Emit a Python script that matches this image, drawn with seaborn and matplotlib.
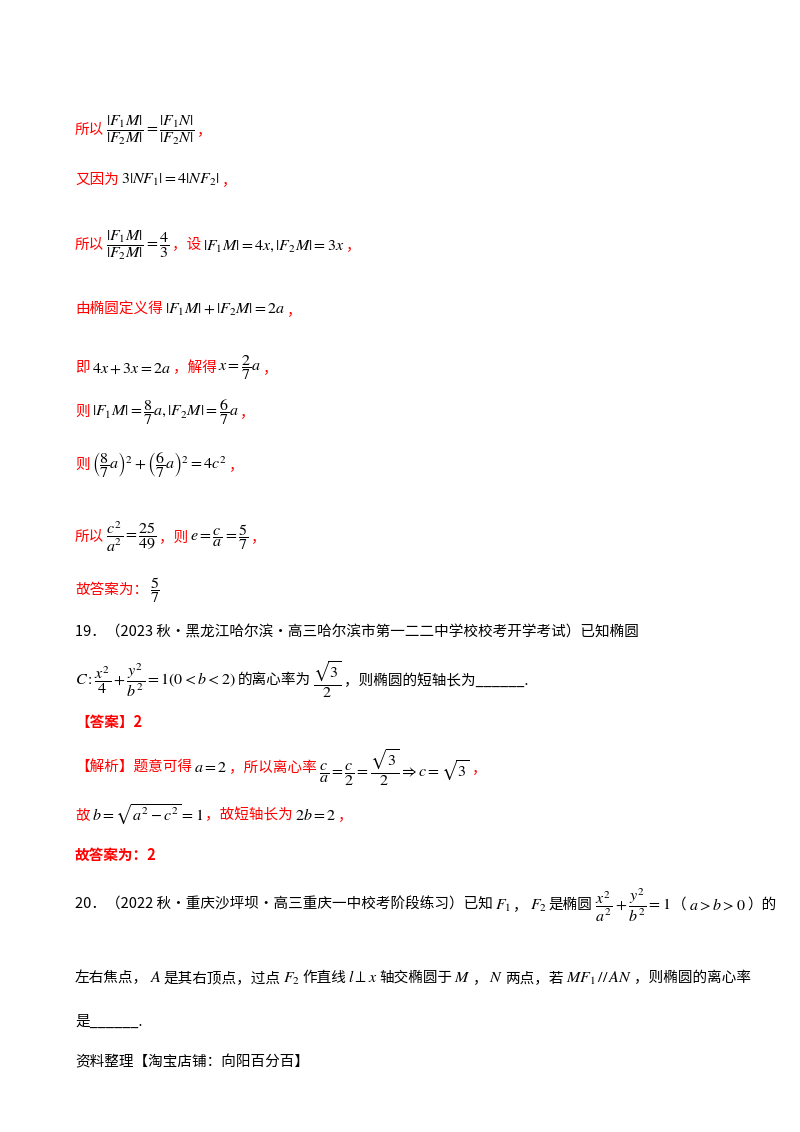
import matplotlib
matplotlib.use("Agg")
import matplotlib.pyplot as plt
import seaborn as sns

sns.set_style("white")
plt.rcParams['font.family'] = ['Noto Sans CJK SC', 'DejaVu Sans']
plt.rcParams['mathtext.fontset'] = 'stix'

R = '#ff0000'
K = '#000000'

# each line: (y pixel from top, list of (text, colour, bold))
line_y = [130, 180, 245, 310, 368, 412, 465, 537, 590, 632, 680, 722, 768, 815, 855, 905, 978, 1022, 1062]
line_segs = [
    [('所以', R, 0), (r'$\dfrac{|F_1M|}{|F_2M|}=\dfrac{|F_1N|}{|F_2N|}$', K, 0), ('，', R, 0)],
    [('又因为', R, 0), (r'$3|NF_1|=4|NF_2|$', K, 0), ('，', R, 0)],
    [('所以', R, 0), (r'$\dfrac{|F_1M|}{|F_2M|}=\dfrac{4}{3}$', K, 0), ('，设', R, 0),
     (r'$|F_1M|=4x,|F_2M|=3x$', K, 0), ('，', R, 0)],
    [('由椭圆定义得', R, 0), (r'$|F_1M|+|F_2M|=2a$', K, 0), ('，', R, 0)],
    [('即', R, 0), (r'$4x+3x=2a$', K, 0), ('，解得', R, 0), (r'$x=\dfrac{2}{7}a$', K, 0), ('，', R, 0)],
    [('则', R, 0), (r'$|F_1M|=\dfrac{8}{7}a,|F_2M|=\dfrac{6}{7}a$', K, 0), ('，', R, 0)],
    [('则', R, 0), (r'$\left(\dfrac{8}{7}a\right)^2+\left(\dfrac{6}{7}a\right)^2=4c^2$', K, 0), ('，', R, 0)],
    [('所以', R, 0), (r'$\dfrac{c^2}{a^2}=\dfrac{25}{49}$', K, 0), ('，则', R, 0),
     (r'$e=\dfrac{c}{a}=\dfrac{5}{7}$', K, 0), ('，', R, 0)],
    [('故答案为：', R, 0), (r'$\dfrac{5}{7}$', K, 0)],
    [('19．（2023 秋·黑龙江哈尔滨·高三哈尔滨市第一二二中学校校考开学考试）已知椭圆', K, 0)],
    [(r'$C:\dfrac{x^2}{4}+\dfrac{y^2}{b^2}=1(0<b<2)$', K, 0), ('的离心率为', K, 0),
     (r'$\dfrac{\sqrt{3}}{2}$', K, 0), ('，则椭圆的短轴长为______.', K, 0)],
    [('【答案】2', R, 1)],
    [('【解析】题意可得', R, 0), (r'$a=2$', K, 0), ('，所以离心率', R, 0),
     (r'$\dfrac{c}{a}=\dfrac{c}{2}=\dfrac{\sqrt{3}}{2}\Rightarrow c=\sqrt{3}$', K, 0), ('，', R, 0)],
    [('故', R, 0), (r'$b=\sqrt{a^2-c^2}=1$', K, 0), ('，故短轴长为', R, 0), (r'$2b=2$', K, 0), ('，', R, 0)],
    [('故答案为：2', R, 1)],
    [('20．（2022 秋·重庆沙坪坝·高三重庆一中校考阶段练习）已知', K, 0), (r'$F_1$', K, 0), ('，', K, 0),
     (r'$F_2$', K, 0), ('是椭圆', K, 0), (r'$\dfrac{x^2}{a^2}+\dfrac{y^2}{b^2}=1$', K, 0),
     ('（', K, 0), (r'$a>b>0$', K, 0), ('）的', K, 0)],
    [('左右焦点，', K, 0), (r'$A$', K, 0), ('是其右顶点，过点', K, 0), (r'$F_2$', K, 0), ('作直线', K, 0),
     (r'$l\perp x$', K, 0), ('轴交椭圆于', K, 0), (r'$M$', K, 0), ('，', K, 0), (r'$N$', K, 0),
     ('两点，若', K, 0), (r'$MF_1\,//\,AN$', K, 0), ('，则椭圆的离心率', K, 0)],
    [('是______.', K, 0)],
    [('资料整理【淘宝店铺：向阳百分百】', K, 0)],
]

W, H = 800, 1132
fig = plt.figure(figsize=(W / 100, H / 100), dpi=100)
fig.patch.set_facecolor('white')
renderer = fig.canvas.get_renderer()

for y, segs in zip(line_y, line_segs):
    x = 75
    for txt, col, bold in segs:
        size = 11.5 if txt.startswith('$') else 10.5
        t = fig.text(x / W, 1 - y / H, txt, color=col, fontsize=size,
                     fontweight='bold' if bold else 'normal', va='center', ha='left')
        x += t.get_window_extent(renderer).width + 2

fig.savefig('out.png', dpi=100, facecolor='white')
